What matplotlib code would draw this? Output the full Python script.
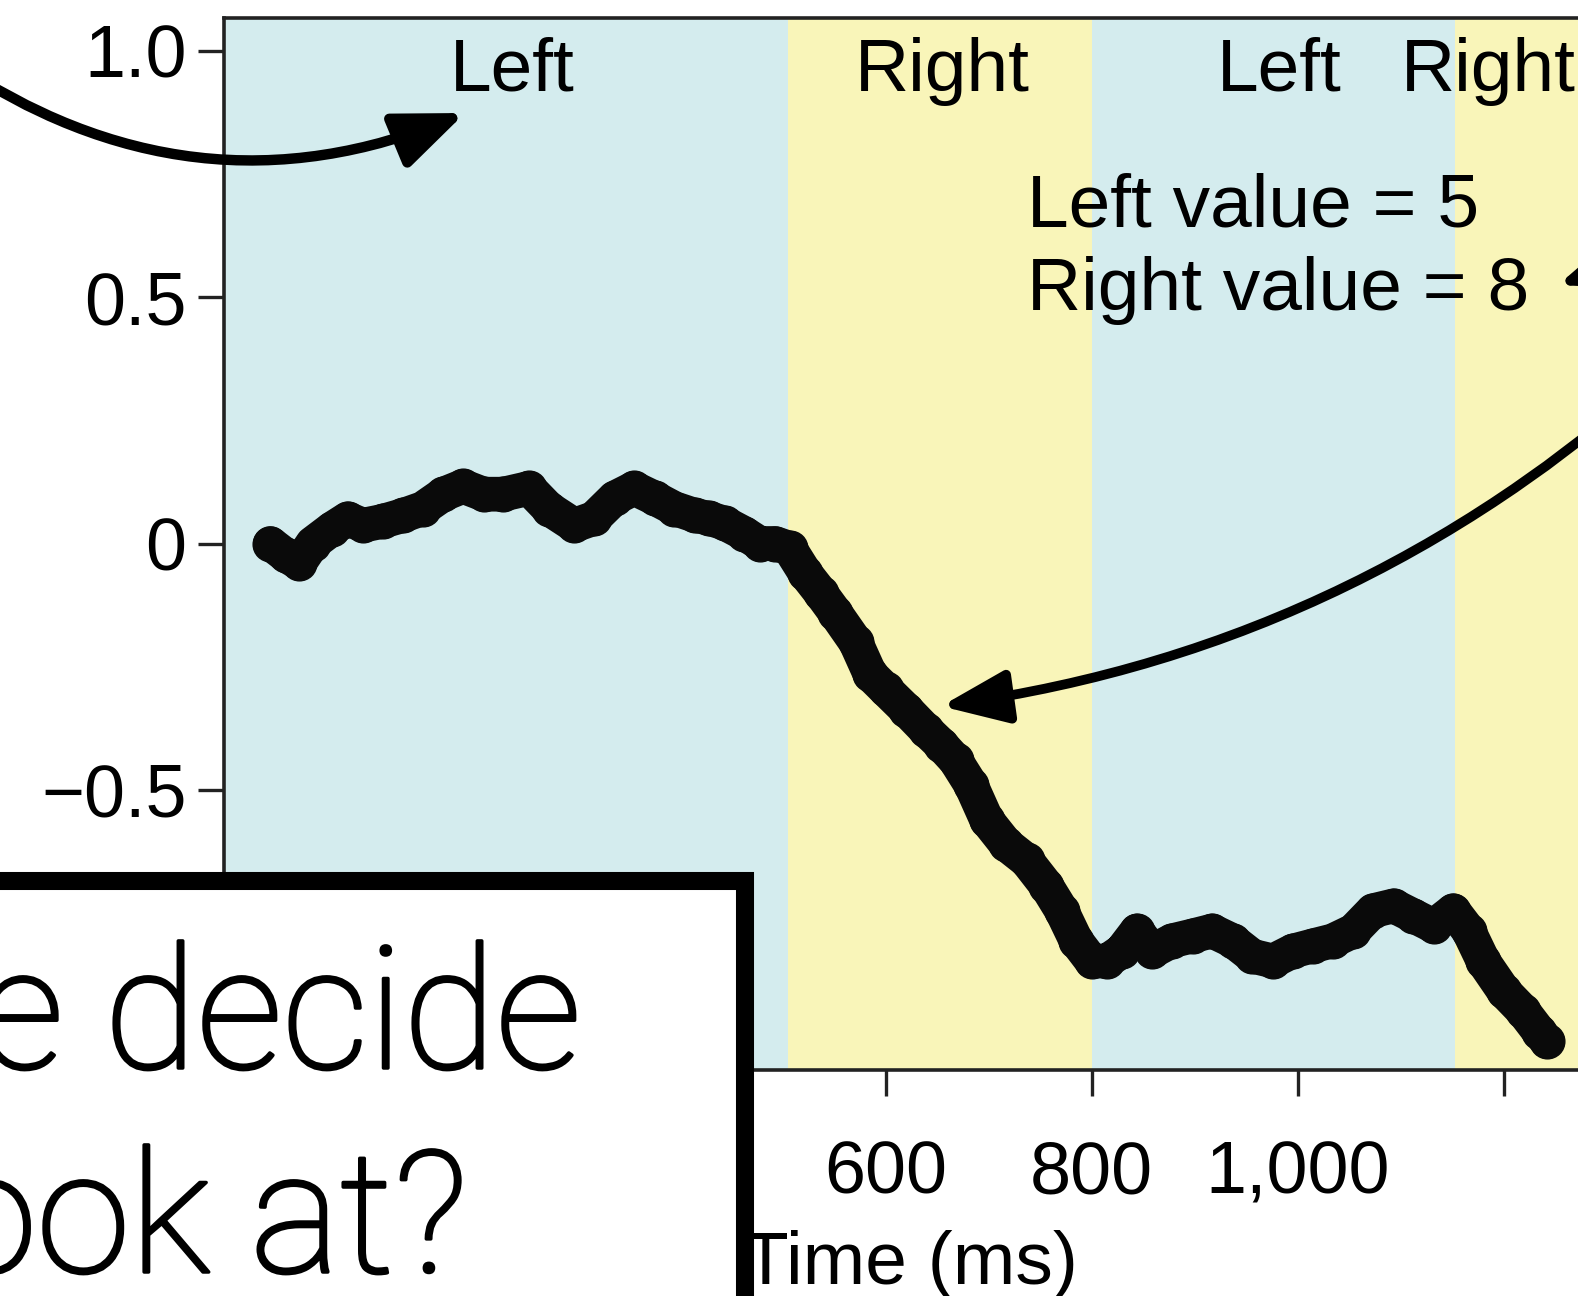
import matplotlib.pyplot as plt
import matplotlib.patheffects as pe
from matplotlib.patches import Rectangle

plt.rcParams['font.family'] = ['Liberation Sans', 'DejaVu Sans']

# mean gaze-weighted decision signal over time (ms)
time_ms = [3, 18, 31, 44, 63, 78, 93, 112, 132, 151, 171, 190, 210, 229, 254, 273,
           298, 317, 337, 356, 376, 395, 415, 429, 444, 463, 478, 493, 507, 522, 537,
           551, 571, 585, 600, 620, 639, 654, 668, 683, 698, 717, 737, 756, 771, 785,
           800, 815, 829, 844, 859, 878, 898, 917, 937, 956, 976, 995, 1015, 1034,
           1054, 1073, 1093, 1112, 1132, 1151, 1166, 1180, 1200, 1219, 1234, 1242]
signal = [0.0, -0.024, -0.04, 0.0, 0.03, 0.05, 0.037, 0.045, 0.057, 0.071, 0.10,
          0.116, 0.10, 0.10, 0.112, 0.071, 0.037, 0.051, 0.092, 0.112, 0.092, 0.071,
          0.057, 0.051, 0.041, 0.02, 0.0, 0.0, -0.01, -0.06, -0.10, -0.14, -0.20,
          -0.265, -0.296, -0.337, -0.378, -0.408, -0.44, -0.49, -0.56, -0.61, -0.643,
          -0.694, -0.745, -0.806, -0.847, -0.847, -0.827, -0.786, -0.827, -0.806,
          -0.796, -0.786, -0.806, -0.837, -0.847, -0.827, -0.816, -0.806, -0.786,
          -0.745, -0.735, -0.755, -0.776, -0.745, -0.786, -0.847, -0.908, -0.949,
          -0.99, -1.01]

# fixation phases
phase_names = ['Left', 'Right', 'Left', 'Right']
phase_start = [-42, 505, 800, 1153]
phase_end = [505, 800, 1153, 1272]
phase_label_x = [238, 655, 982, 1185]
phase_colors = {'Left': '#d4ecee', 'Right': '#f9f5b9'}

xticks = [0, 200, 400, 600, 800, 1000, 1200]
xtick_labels = ['0', '200', '400', '600', '800', '1,000', '']
yticks = [-1.0, -0.5, 0, 0.5, 1.0]
ytick_labels = ['\u22121.0', '\u22120.5', '0', '0.5', '1.0']

fig = plt.figure(figsize=(15.78, 12.96), dpi=100)
ax = fig.add_axes([224 / 1578, 226 / 1296, 1 - 224 / 1578, 1052 / 1296])

for name, a, b in zip(phase_names, phase_start, phase_end):
    ax.axvspan(a, b, color=phase_colors[name], lw=0, zorder=0)
for name, x in zip(phase_names, phase_label_x):
    ax.text(x, 0.918, name, ha='center', va='baseline', fontsize=54)

ax.plot(time_ms, signal, color='#0a0a0a', lw=25, solid_capstyle='round',
        solid_joinstyle='round', marker='o', markersize=25, zorder=3)

ax.text(737, 0.643, 'Left value = 5', ha='left', va='baseline', fontsize=54)
ax.text(737, 0.473, 'Right value = 8', ha='left', va='baseline', fontsize=54)

ax.set_xlim(-42, 1272)
ax.set_ylim(-1.068, 1.066)
ax.set_xticks(xticks)
ax.set_xticklabels(xtick_labels)
ax.set_yticks(yticks)
ax.set_yticklabels(ytick_labels)
ax.tick_params(axis='both', length=19, width=2.4, labelsize=53, color='#222222')
ax.tick_params(axis='x', pad=31)
ax.tick_params(axis='y', pad=8)
ax.spines['right'].set_visible(False)
for s in ['left', 'top', 'bottom']:
    ax.spines[s].set_linewidth(2.6)
    ax.spines[s].set_color('#222222')
ax.set_xlabel('Time (ms)', fontsize=54)
ax.xaxis.set_label_coords(0.507, -0.152)
ax.xaxis.label.set_va('top')

# arrows
ax.annotate('', xy=(465, 1183), xycoords='figure pixels',
            xytext=(-50, 1236), textcoords='figure pixels',
            arrowprops=dict(arrowstyle='-|>,head_length=4.2,head_width=1.7',
                            connectionstyle='arc3,rad=0.27', color='black',
                            lw=7.5, shrinkA=0, shrinkB=0),
            annotation_clip=False)
ax.annotate('', xy=(654, -0.33), xycoords='data',
            xytext=(1690, 950), textcoords='figure pixels',
            arrowprops=dict(arrowstyle='-|>,head_length=4,head_width=1.6',
                            connectionstyle='arc3,rad=-0.16', color='black',
                            lw=7, shrinkA=0, shrinkB=0),
            annotation_clip=False, zorder=5)
ax.annotate('', xy=(1558, 1011), xycoords='figure pixels',
            xytext=(1700, 1060), textcoords='figure pixels',
            arrowprops=dict(arrowstyle='-|>,head_length=4,head_width=1.6',
                            color='black', lw=7, shrinkA=0, shrinkB=0),
            annotation_clip=False)

# question box
box = Rectangle((-0.05, -0.05), 0.05 + 745 / 1578, 0.05 + 415 / 1296,
                transform=fig.transFigure, facecolor='white', edgecolor='black',
                lw=13, zorder=10)
fig.add_artist(box)
thicken = [pe.withStroke(linewidth=2.5, foreground='black')]
fig.text(582 / 1578, 1 - 1068 / 1296, 'How do we decide', ha='right', va='baseline',
         fontsize=122, family=['Roboto', 'DejaVu Sans'], fontweight='light',
         path_effects=thicken, zorder=11)
fig.text(468 / 1578, 1 - 1272 / 1296, 'what to look at?', ha='right', va='baseline',
         fontsize=122, family=['Roboto', 'DejaVu Sans'], fontweight='light',
         path_effects=thicken, zorder=11)

fig.savefig('out.png', dpi=100)
